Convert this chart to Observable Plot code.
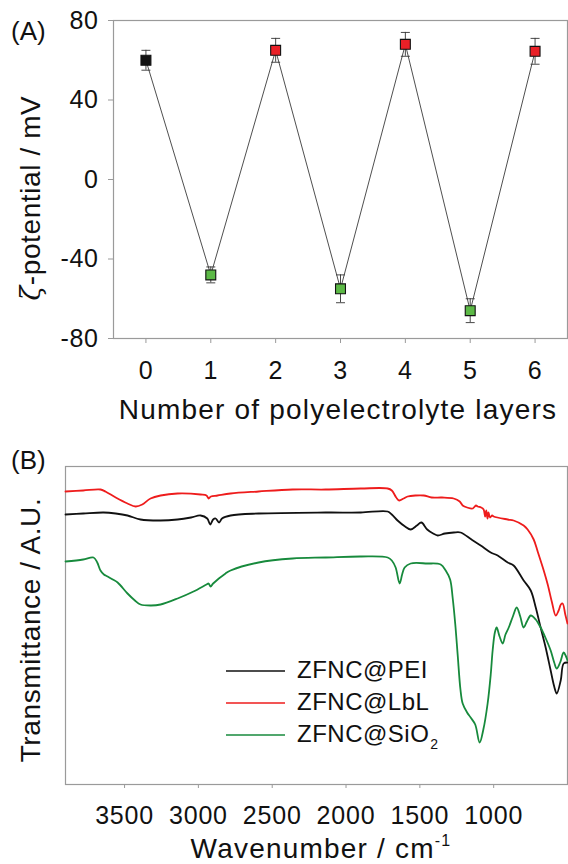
<!DOCTYPE html>
<html>
<head>
<meta charset="utf-8">
<script src="https://cdn.jsdelivr.net/npm/d3@7"></script>
<script src="https://cdn.jsdelivr.net/npm/@observablehq/plot@0.6"></script>
<style>
  html, body { margin: 0; padding: 0; background: #fff; }
  #root { position: relative; width: 568px; height: 864px; overflow: hidden;
          font-family: "Liberation Sans", Arial, sans-serif; color: #111; }
  .abs { position: absolute; white-space: nowrap; }
  .panel { position: absolute; left: 0; }
  .ytitle { transform: translate(-50%, -50%) rotate(-90deg); font-size: 28px; letter-spacing: 0.6px; }
  .ytitle .zeta { font-family: "DejaVu Serif", "DejaVu Sans", serif; font-style: italic; font-size: 27px; }
  .xtitle { transform: translate(-50%, -50%); font-size: 28px; letter-spacing: 1.2px; }
  .plabel { font-size: 26px; }
  .leg { font-size: 24px; letter-spacing: 0.5px; }
  .leg sub { font-size: 14px; vertical-align: -7px; margin-left: 1px; }
  .xtitle sup { font-size: 16px; vertical-align: 12px; }
</style>
</head>
<body>
<div id="root"></div>
<script>
// ---------- Panel A data ----------
const layers = [0, 1, 2, 3, 4, 5, 6];
const zeta = [60, -48, 65, -55, 68, -66, 64.5];
const zetaErr = [5, 4, 6, 7, 6, 6, 6.5];
const layerType = ["core", "anionic", "cationic", "anionic", "cationic", "anionic", "cationic"];
const typeNames = ["core", "anionic", "cationic"];
const typeColors = ["#111111", "#5cb946", "#ea2027"];
const zetaTicks = [-80, -40, 0, 40, 80];

// ---------- Panel B data (wavenumber / cm-1, transmittance A.U.) ----------
const pei_wn = [3900,3780,3642,3560,3480,3392,3256,3141,3050,2985,2940,2920,2900,2883,2860,2840,2782,2592,2138,1900,1718,1690,1651,1600,1562,1520,1490,1450,1410,1379,1330,1270,1224,1150,1088,1020,973,905,865,797,749,715,682,648,614,590,573,546,526,500];
const pei_t  = [270,271,272,271,269,265,264,265,267,269,266,260,265,266,262,266,269,271,272,272,273,270,264,258,255,259,262,255,251,249,251,252,252,245,239,232,229,222,219,204,194,177,157,137,114,98,91,104,121,122];

const lbl_wn = [3900,3780,3663,3630,3560,3480,3425,3380,3324,3256,3141,2985,2945,2931,2915,2870,2782,2592,2362,2138,1900,1718,1690,1660,1640,1610,1583,1530,1474,1420,1350,1271,1230,1210,1180,1142,1120,1108,1085,1068,1058,1050,1042,1035,1025,1010,1000,905,865,797,770,729,702,661,634,605,580,560,545,533,515,500];
const lbl_t  = [293,294,295,293,287,281,278,280,286,289,291,290,289,286,288,289,291,293,295,295,296,296,294,287,284,286,288,289,289,287,287,286,283,279,277,276,279,278,277,275,268,274,266,272,267,269,268,265,264,259,255,245,233,214,200,182,169,174,180,181,170,161];

const sio2_wn = [3900,3780,3710,3685,3663,3640,3615,3580,3547,3480,3430,3392,3320,3256,3141,3033,2945,2931,2917,2900,2816,2782,2592,2362,2138,1900,1718,1690,1664,1637,1620,1603,1562,1450,1359,1325,1295,1278,1260,1244,1225,1210,1180,1156,1125,1095,1070,1041,1020,1007,992,980,960,939,920,898,870,844,820,797,775,749,715,682,650,614,590,573,550,526,510,500];
const sio2_t  = [223,225,227,222,214,210,208,205,202,191,184,180,179,180,186,193,200,201,198,201,211,214,222,226,227,228,227,224,217,201,210,217,221,221,220,214,205,187,160,130,95,81,72,67,60,42,55,81,110,134,152,157,148,141,150,157,168,177,168,157,163,169,165,157,147,134,122,116,122,132,128,124];

const wnTicks = [3500, 3000, 2500, 2000, 1500, 1000];
const seriesNames = ["ZFNC@PEI", "ZFNC@LbL", "ZFNC@SiO2"];
const seriesColors = ["#111111", "#ee1c1c", "#178a3c"];

const FONT = "'Liberation Sans', Arial, sans-serif";
const root = document.getElementById("root");

// ---------- Panel A ----------
const zetaData = layers.map((l, i) => ({layer: l, v: zeta[i], e: zetaErr[i], type: layerType[i]}));
const capSymbol = { draw(ctx) { ctx.moveTo(-4.5, 0); ctx.lineTo(4.5, 0); } };

const plotA = Plot.plot({
  width: 568, height: 430,
  marginLeft: 113, marginRight: 1, marginTop: 20, marginBottom: 92,
  style: {fontSize: "25px", letterSpacing: "0.6px", fontFamily: FONT, color: "#111", background: "white", overflow: "visible"},
  x: {domain: [-0.5, 6.5]},
  y: {domain: [-80, 80]},
  color: {domain: typeNames, range: typeColors},
  marks: [
    Plot.frame({stroke: "#9a9a9a", strokeWidth: 1.2}),
    Plot.axisX({ticks: layers, tickFormat: d3.format("d"), tickSize: 5, tickPadding: 18, stroke: "#9a9a9a", fill: "#111", label: null}),
    Plot.axisY({ticks: zetaTicks, tickSize: 5, tickPadding: 10, stroke: "#9a9a9a", fill: "#111", label: null, tickFormat: d => d3.format("d")(d).replace("−", "-")}),
    Plot.line(zetaData, {x: "layer", y: "v", stroke: "#222", strokeWidth: 0.8}),
    Plot.ruleX(zetaData, {x: "layer", y1: d => d.v - d.e, y2: d => d.v + d.e, stroke: "#333", strokeWidth: 0.9}),
    Plot.dot(zetaData, {x: "layer", y: d => d.v + d.e, symbol: capSymbol, fill: "none", stroke: "#333", strokeWidth: 0.9}),
    Plot.dot(zetaData, {x: "layer", y: d => d.v - d.e, symbol: capSymbol, fill: "none", stroke: "#333", strokeWidth: 0.9}),
    Plot.dot(zetaData, {x: "layer", y: "v", symbol: "square", r: 5.6, fill: "type", stroke: "#111", strokeWidth: 1.1})
  ]
});
plotA.classList.add("panel");
plotA.style.top = "0px";
root.appendChild(plotA);

// ---------- Panel B ----------
const spectra = [
  ...pei_wn.map((w, i) => ({wn: w, t: pei_t[i], s: seriesNames[0]})),
  ...lbl_wn.map((w, i) => ({wn: w, t: lbl_t[i], s: seriesNames[1]})),
  ...sio2_wn.map((w, i) => ({wn: w, t: sio2_t[i], s: seriesNames[2]}))
];

const plotB = Plot.plot({
  width: 568, height: 434,
  marginLeft: 65, marginRight: 1, marginTop: 36, marginBottom: 80,
  style: {fontSize: "25px", letterSpacing: "0.8px", fontFamily: FONT, color: "#111", background: "white", overflow: "visible"},
  x: {domain: [3900, 500]},
  y: {domain: [0, 318], axis: null},
  color: {domain: seriesNames, range: seriesColors},
  marks: [
    Plot.frame({stroke: "#9a9a9a", strokeWidth: 1.2}),
    Plot.axisX({ticks: wnTicks, tickFormat: d3.format("d"), tickSize: 4, tickPadding: 18, stroke: "#9a9a9a", fill: "#111", label: null}),
    Plot.line(spectra, {x: "wn", y: "t", z: "s", stroke: "s", strokeWidth: 1.8, curve: "catmull-rom"})
  ]
});
plotB.classList.add("panel");
plotB.style.top = "430px";
root.appendChild(plotB);

// ---------- Text overlays ----------
function addText(html, cls, left, top) {
  const d = document.createElement("div");
  d.className = "abs " + cls;
  d.style.left = left + "px";
  d.style.top = top + "px";
  d.innerHTML = html;
  root.appendChild(d);
  return d;
}
addText("(A)", "plabel", 11, 16);
addText("(B)", "plabel", 11, 445);
addText('<span class="zeta">ζ</span>-potential / mV', "ytitle", 31, 198);
addText("Number of polyelectrolyte layers", "xtitle", 338, 410);
addText("Transmittance / A.U.", "ytitle", 31, 630);
addText("Wavenumber / cm<sup>-1</sup>", "xtitle", 321, 848);

// Legend
const legY = [671, 703, 735];
const legLabels = ["ZFNC@PEI", "ZFNC@LbL", "ZFNC@SiO<sub>2</sub>"];
const svgNS = "http://www.w3.org/2000/svg";
const legSvg = document.createElementNS(svgNS, "svg");
legSvg.setAttribute("width", 568); legSvg.setAttribute("height", 864);
legSvg.style.position = "absolute"; legSvg.style.left = "0"; legSvg.style.top = "0";
legSvg.style.pointerEvents = "none";
seriesNames.forEach((n, i) => {
  const ln = document.createElementNS(svgNS, "line");
  ln.setAttribute("x1", 226); ln.setAttribute("x2", 285);
  ln.setAttribute("y1", legY[i]); ln.setAttribute("y2", legY[i]);
  ln.setAttribute("stroke", seriesColors[i]); ln.setAttribute("stroke-width", 1.6);
  legSvg.appendChild(ln);
  addText(legLabels[i], "leg", 297, legY[i] - 15);
});
root.appendChild(legSvg);
</script>
</body>
</html>
